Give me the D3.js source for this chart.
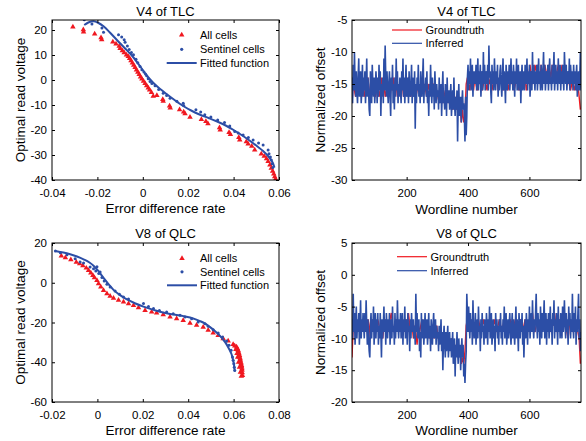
<!DOCTYPE html>
<html><head><meta charset="utf-8">
<script src="https://cdn.jsdelivr.net/npm/d3@7"></script>
<style>
body{margin:0;background:#fff}
svg text{font-family:"Liberation Sans",Arial,Helvetica,sans-serif;fill:#000;font-weight:normal}
</style></head><body>
<svg id="c" width="586" height="441"></svg>
<script>
// ---------- data: V4 of TLC (scatter) ----------
const tlcAllCells = [[-0.0308,21.2],[-0.0262,20.1],[-0.0261,19.2],[-0.0212,18.4],[-0.0184,16.9],[-0.0181,16.1],[-0.0132,15.2],[-0.0118,14.4],[-0.0104,13.5],[-0.0100,12.6],[-0.0090,11.7],[-0.0082,10.9],[-0.0072,10.0],[-0.0064,9.4],[-0.0058,8.6],[-0.0052,7.7],[-0.0046,6.8],[-0.0040,5.9],[-0.0034,5.0],[-0.0028,4.0],[-0.0022,3.1],[-0.0016,2.2],[-0.0010,1.2],[-0.0004,0.4],[0.0003,-0.5],[0.0010,-1.4],[0.0017,-2.3],[0.0024,-3.2],[0.0030,-4.0],[0.0038,-5.0],[0.0046,-6.5],[0.0062,-6.2],[0.0088,-7.8],[0.0090,-8.5],[0.0118,-10.4],[0.0121,-11.2],[0.0162,-11.9],[0.0180,-12.8],[0.0186,-13.5],[0.0208,-14.9],[0.0258,-15.8],[0.0278,-16.6],[0.0287,-17.5],[0.0338,-19.1],[0.0341,-20.0],[0.0380,-21.0],[0.0386,-21.8],[0.0423,-23.0],[0.0427,-24.0],[0.0456,-24.7],[0.0464,-25.6],[0.0480,-26.5],[0.0493,-28.0],[0.0522,-29.6],[0.0535,-30.5],[0.0545,-31.5],[0.0552,-32.6],[0.0560,-34.0],[0.0566,-35.3],[0.0572,-36.5],[0.0577,-37.6],[0.0581,-38.7],[0.0585,-39.6]];
const tlcSentinel = [[-0.0258,24.1],[-0.0224,22.4],[-0.0180,20.8],[-0.0173,19.1],[-0.0107,18.1],[-0.0093,17.2],[-0.0082,16.1],[-0.0078,15.1],[-0.0068,13.6],[-0.0060,12.2],[-0.0050,11.0],[-0.0041,10.1],[-0.0030,8.3],[-0.0022,6.9],[-0.0012,5.4],[-0.0004,4.1],[0.0005,3.2],[0.0012,2.4],[0.0017,1.7],[0.0024,0.5],[0.0032,-0.6],[0.0040,-1.4],[0.0054,-2.3],[0.0070,-3.8],[0.0090,-5.3],[0.0105,-6.2],[0.0120,-7.3],[0.0150,-8.5],[0.0178,-9.3],[0.0180,-10.2],[0.0234,-11.9],[0.0255,-12.8],[0.0273,-13.9],[0.0300,-14.8],[0.0330,-16.0],[0.0360,-17.0],[0.0383,-18.4],[0.0405,-20.6],[0.0420,-21.2],[0.0442,-22.0],[0.0465,-23.0],[0.0486,-24.0],[0.0510,-25.2],[0.0530,-26.0],[0.0552,-28.0],[0.0556,-29.5],[0.0562,-30.8],[0.0566,-32.0],[0.0570,-33.5],[0.0573,-35.0]];
const tlcFitted = [[-0.0258,22.0],[-0.0240,23.0],[-0.0217,23.5],[-0.0195,22.8],[-0.0173,21.5],[-0.0145,19.0],[-0.0115,16.1],[-0.0080,12.8],[-0.0041,9.0],[-0.0010,5.2],[0.0020,1.5],[0.0047,-1.2],[0.0075,-3.5],[0.0105,-5.6],[0.0140,-8.0],[0.0178,-10.4],[0.0215,-12.3],[0.0250,-13.8],[0.0290,-15.2],[0.0325,-16.5],[0.0365,-18.2],[0.0400,-20.0],[0.0435,-22.0],[0.0470,-24.2],[0.0505,-26.6],[0.0530,-28.4],[0.0550,-30.2],[0.0565,-32.0],[0.0575,-33.6],[0.0580,-35.0]];

// ---------- data: V8 of QLC (scatter) ----------
const qlcAllCells = [[-0.0159,13.5],[-0.0141,12.6],[-0.0117,11.6],[-0.0093,10.4],[-0.0078,9.6],[-0.0064,8.6],[-0.0049,7.4],[-0.0039,6.2],[-0.0029,4.9],[-0.0020,3.7],[-0.0013,2.6],[-0.0002,1.2],[0.0005,-0.5],[0.0015,-2.1],[0.0027,-3.8],[0.0042,-5.5],[0.0056,-6.8],[0.0071,-7.8],[0.0093,-8.8],[0.0115,-9.7],[0.0137,-10.5],[0.0159,-11.4],[0.0181,-12.5],[0.0210,-13.9],[0.0239,-14.7],[0.0261,-15.2],[0.0290,-16.1],[0.0320,-17.2],[0.0349,-18.1],[0.0378,-18.9],[0.0408,-20.3],[0.0437,-21.4],[0.0466,-22.3],[0.0488,-23.9],[0.0510,-25.3],[0.0532,-26.5],[0.0554,-28.1],[0.0576,-29.3],[0.0598,-31.0],[0.0605,-31.8],[0.0613,-32.3],[0.0617,-33.2],[0.0620,-34.0],[0.0622,-34.9],[0.0624,-35.7],[0.0626,-36.6],[0.0627,-37.4],[0.0629,-38.2],[0.0630,-39.0],[0.0632,-39.9],[0.0633,-40.7],[0.0635,-41.6],[0.0636,-42.4],[0.0637,-43.2],[0.0637,-44.0],[0.0638,-45.3],[0.0639,-46.6],[0.0610,-33.5],[0.0615,-35.5],[0.0618,-37.5],[0.0622,-40.0],[0.0626,-42.5],[0.0630,-45.0],[0.0634,-47.0]];
const qlcSentinel = [[-0.0185,16.0],[-0.0163,15.1],[-0.0134,14.1],[-0.0098,12.1],[-0.0076,10.4],[-0.0061,9.9],[-0.0032,7.9],[-0.0017,7.1],[-0.0007,5.9],[-0.0002,8.0],[0.0006,4.6],[0.0012,5.4],[0.0020,2.6],[0.0030,0.9],[0.0042,-0.8],[0.0056,-2.1],[0.0078,-4.2],[0.0097,-5.8],[0.0115,-7.2],[0.0137,-8.2],[0.0203,-10.5],[0.0225,-11.9],[0.0247,-13.0],[0.0273,-13.9],[0.0305,-14.7],[0.0334,-15.6],[0.0364,-16.4],[0.0386,-17.2],[0.0415,-18.1],[0.0444,-19.7],[0.0474,-20.6],[0.0488,-21.9],[0.0510,-23.6],[0.0532,-25.3],[0.0551,-27.3],[0.0569,-29.3],[0.0580,-31.5],[0.0589,-34.0],[0.0595,-37.4],[0.0598,-39.0],[0.0601,-40.7],[0.0603,-42.5],[0.0605,-44.1]];
const qlcFitted = [[-0.0185,16.0],[-0.0150,15.2],[-0.0120,14.3],[-0.0090,13.2],[-0.0061,11.8],[-0.0035,10.2],[-0.0017,8.6],[0.0005,5.8],[0.0027,2.4],[0.0050,-0.8],[0.0071,-3.6],[0.0100,-6.2],[0.0130,-8.4],[0.0165,-10.3],[0.0203,-12.0],[0.0240,-13.4],[0.0276,-14.6],[0.0310,-15.5],[0.0349,-16.2],[0.0380,-16.8],[0.0408,-17.5],[0.0430,-18.3],[0.0452,-19.3],[0.0475,-20.6],[0.0495,-22.2],[0.0515,-24.0],[0.0539,-26.6],[0.0555,-28.8],[0.0569,-31.0],[0.0581,-33.5],[0.0591,-36.0],[0.0597,-38.5],[0.0602,-41.5],[0.0605,-44.4]];

// ---------- data: wordline series ----------
const wordlineStart = 22;
const inferredStep = 2;     // wordlines per inferred sample
const truthStep = 4;        // wordlines per groundtruth sample
const tlcInferred = [
-14,-18,-12,-16,-10,-15,-17,-13,-16,-18,-14,-11,-17,-15,-13,-18,-16,-12,-17,-14,
-16,-13,-18,-15,-11,-17,-14,-16,-19,-20,-13,-16,-18,-12,-15,-17,-14,-18,-16,-13,
-15,-18,-14,-17,-12,-16,-13,-20,-15,-17,-14,-18,-11,-16,-9,-14,-17,-13,-16,-18,
-15,-13,-17,-20,-14,-16,-12,-18,-15,-19,-14,-17,-11,-16,-13,-18,-15,-17,-14,-16,
-18,-13,-16,-11,-17,-14,-18,-15,-12,-17,-16,-14,-18,-13,-16,-17,-15,-12,-18,-14,
-16,-17,-13,-22,-15,-18,-14,-16,-12,-17,-15,-18,-13,-16,-17,-14,-11,-18,-15,-16,
-14,-17,-13,-18,-16,-20,-15,-17,-12,-16,-18,-14,-17,-15,-19,-13,-16,-18,-15,-17,
-16,-19,-14,-18,-17,-15,-20,-16,-13,-18,-17,-19,-15,-16,-20,-14,-18,-17,-16,-19,
-17,-15,-20,-18,-16,-19,-14,-18,-20,-17,-19,-16,-24,-18,-15,-20,-19,-17,-21,-18,
-16,-19,-18,-20,-24,-17,-23,-20,-14,-12,-16,-13,-15,-11,-16,-14,-12,-17,-13,-15,
-13,-15,-12,-16,-14,-11,-16,-13,-15,-12,-17,-14,-13,-16,-10,-15,-12,-16,-14,-13,
-15,-12,-16,-9,-14,-13,-16,-18,-12,-15,-13,-16,-11,-14,-16,-13,-15,-12,-17,-14,
-16,-13,-12,-15,-17,-14,-11,-16,-13,-15,-18,-12,-14,-16,-13,-15,-12,-16,-14,-11,
-15,-13,-16,-12,-14,-17,-13,-15,-11,-16,-14,-12,-16,-15,-13,-18,-14,-12,-16,-15,
-13,-16,-12,-14,-15,-11,-16,-13,-15,-12,-17,-14,-13,-16,-10,-15,-12,-14,-16,-13,
-15,-12,-16,-14,-11,-15,-13,-16,-12,-14,-16,-13,-10,-15,-12,-16,-14,-13,-15,-12,
-16,-13,-11,-15,-14,-16,-12,-15,-13,-10,-16,-14,-12,-15,-13,-16,-11,-14,-15,-12,
-16,-13,-15,-12,-14,-16,-10,-13,-15,-12,-16,-14,-13,-15,-11,-16,-12,-14,-15,-13,
-16,-12,-15,-13,-16,-14,-12,-17,-15,-13,-16,-14,-10,-16];
const tlcGroundtruth = [
-18,-15,-16,-17,-15,-16,-14,-17,-15,-16,-17,-15,-16,-14,-16,-17,-15,-16,-15,-17,
-16,-15,-17,-16,-14,-16,-15,-17,-16,-15,-16,-17,-15,-16,-14,-16,-15,-17,-16,-15,
-16,-15,-17,-16,-15,-16,-14,-16,-17,-15,-16,-15,-17,-16,-15,-16,-17,-15,-16,-15,
-16,-17,-15,-16,-15,-15,-15,-16,-17,-16,-17,-18,-16,-17,-18,-17,-16,-18,-17,-18,
-17,-18,-19,-18,-17,-19,-18,-19,-18,-21,-19,-21,-20,-15,-14,-15,-16,-14,-15,-16,
-14,-15,-16,-14,-15,-14,-16,-15,-14,-15,-16,-14,-15,-14,-16,-15,-14,-15,-14,-16,
-15,-14,-15,-16,-14,-15,-14,-16,-15,-14,-15,-14,-16,-15,-14,-15,-16,-14,-15,-14,
-15,-14,-16,-15,-14,-12,-14,-15,-14,-12,-13,-12,-14,-15,-12,-13,-14,-12,-13,-14,
-12,-13,-14,-12,-13,-12,-14,-13,-12,-13,-14,-12,-13,-14,-12,-15,-14,-15,-16,-15,
-15,-16,-15,-16,-15,-17,-19];
const qlcInferred = [
-7,-10,-3,-9,-6,-11,-8,-5,-10,-7,-9,-6,-11,-8,-4,-10,-7,-9,-6,-8,
-10,-6,-9,-4,-8,-11,-7,-10,-12,-13,-8,-6,-10,-7,-9,-5,-11,-8,-6,-10,
-7,-9,-6,-11,-8,-10,-6,-9,-13,-7,-10,-8,-5,-9,-7,-11,-6,-8,-10,-7,
-9,-6,-11,-8,-7,-10,-5,-9,-8,-11,-6,-10,-7,-9,-4,-8,-10,-7,-9,-6,
-10,-8,-6,-11,-7,-9,-5,-10,-8,-7,-11,-6,-9,-8,-12,-7,-10,-6,-9,-8,
-7,-10,-8,-11,-3,-9,-6,-10,-8,-7,-12,-9,-13,-6,-10,-8,-7,-11,-9,-6,
-10,-8,-7,-11,-9,-6,-10,-8,-12,-7,-9,-11,-8,-6,-10,-9,-7,-11,-8,-10,
-9,-12,-8,-11,-10,-7,-12,-9,-15,-10,-8,-11,-13,-9,-12,-10,-8,-13,-11,-9,
-12,-10,-13,-11,-9,-14,-12,-10,-16,-11,-13,-9,-12,-14,-10,-13,-11,-15,-12,-10,
-13,-11,-16,-14,-17,-14,-12,-3,-6,-9,-5,-8,-10,-6,-9,-7,-11,-4,-8,-10,
-9,-6,-11,-8,-7,-10,-5,-9,-8,-12,-7,-10,-6,-9,-8,-11,-7,-9,-10,-6,
-8,-11,-7,-9,-5,-10,-8,-6,-11,-9,-7,-10,-8,-12,-6,-9,-7,-10,-8,-11,
-7,-9,-6,-10,-8,-11,-7,-9,-5,-10,-8,-6,-11,-9,-7,-10,-8,-6,-9,-11,
-8,-6,-10,-7,-9,-11,-8,-5,-10,-7,-9,-12,-6,-8,-10,-7,-9,-6,-11,-8,
-13,-9,-7,-10,-6,-8,-11,-7,-9,-5,-10,-8,-6,-9,-4,-8,-10,-7,-9,-6,
-3,-8,-10,-6,-9,-7,-11,-5,-8,-10,-6,-9,-7,-4,-10,-8,-6,-11,-7,-9,
-6,-10,-8,-5,-9,-7,-11,-6,-8,-4,-10,-7,-9,-6,-8,-11,-5,-9,-7,-10,
-6,-8,-10,-5,-9,-7,-4,-8,-10,-6,-9,-7,-11,-5,-8,-6,-10,-7,-9,-3,
-8,-10,-6,-9,-5,-11,-7,-9,-6,-3,-10,-7,-12,-9];
const qlcGroundtruth = [
-13,-8,-7,-8,-9,-8,-7,-8,-9,-7,-8,-8,-9,-7,-8,-10,-8,-7,-8,-9,
-8,-7,-8,-9,-8,-10,-8,-7,-8,-9,-8,-7,-6,-8,-9,-8,-7,-8,-9,-8,
-7,-8,-9,-8,-7,-8,-6,-8,-9,-8,-10,-8,-9,-11,-8,-9,-8,-7,-8,-9,
-8,-9,-8,-10,-9,-8,-9,-10,-9,-8,-10,-9,-10,-9,-11,-10,-9,-10,-11,-10,
-11,-10,-11,-12,-11,-12,-11,-13,-12,-14,-13,-14,-12,-8,-7,-8,-9,-8,-7,-8,
-8,-9,-8,-7,-8,-9,-8,-7,-8,-9,-8,-8,-7,-8,-9,-8,-7,-8,-9,-8,
-7,-8,-9,-8,-7,-8,-8,-9,-8,-7,-8,-9,-8,-7,-8,-9,-8,-7,-8,-9,
-8,-7,-8,-9,-8,-7,-8,-6,-8,-9,-8,-7,-8,-9,-8,-7,-8,-9,-8,-7,
-8,-9,-8,-7,-8,-6,-8,-9,-8,-7,-8,-9,-8,-7,-8,-9,-10,-8,-7,-8,
-9,-8,-7,-8,-9,-10,-14];

// ---------- ticks ----------
const tlcScatterXTicks = [-0.04,-0.02,0,0.02,0.04,0.06];
const tlcScatterYTicks = [20,10,0,-10,-20,-30,-40];
const qlcScatterXTicks = [-0.02,0,0.02,0.04,0.06,0.08];
const qlcScatterYTicks = [20,0,-20,-40,-60];
const wordlineTicks = [200,400,600];
const tlcOffsetTicks = [-5,-10,-15,-20,-25,-30];
const qlcOffsetTicks = [5,0,-5,-10,-15,-20];

// ---------- drawing ----------
const RED = '#f01820', BLUE = '#2c4ea6';
const svg = d3.select('#c');
const defs = svg.append('defs');
const fmtNum = d => String(d);

function panel(o) {
  const g = svg.append('g');
  const x = d3.scaleLinear().domain(o.xd).range([o.l, o.r]);
  const y = d3.scaleLinear().domain(o.yd).range([o.b, o.t]);
  defs.append('clipPath').attr('id', 'cl' + o.id).append('rect')
    .attr('x', o.l).attr('y', o.t).attr('width', o.r - o.l).attr('height', o.b - o.t);
  const plot = g.append('g').attr('clip-path', `url(#cl${o.id})`);
  o.draw(plot, x, y);

  const tickFont = g => g.selectAll('text').style('font-size', '11.5px').attr('fill', '#000');
  const noDom = g => g.select('.domain').remove();
  g.append('g').attr('transform', `translate(0,${o.b})`)
    .call(d3.axisBottom(x).tickValues(o.xt).tickFormat(fmtNum).tickSize(-3).tickPadding(9))
    .call(noDom).call(tickFont);
  g.append('g').attr('transform', `translate(0,${o.t})`)
    .call(d3.axisTop(x).tickValues(o.xt).tickFormat('').tickSize(-3))
    .call(noDom);
  g.append('g').attr('transform', `translate(${o.l},0)`)
    .call(d3.axisLeft(y).tickValues(o.yt).tickFormat(fmtNum).tickSize(-3).tickPadding(o.ypad))
    .call(noDom).call(tickFont);
  g.append('g').attr('transform', `translate(${o.r},0)`)
    .call(d3.axisRight(y).tickValues(o.yt).tickFormat('').tickSize(-3))
    .call(noDom);
  g.selectAll('.tick line').attr('stroke', '#000');
  g.selectAll('g').attr('font-family', null);

  g.append('rect').attr('x', o.l).attr('y', o.t).attr('width', o.r - o.l).attr('height', o.b - o.t)
    .attr('fill', 'none').attr('stroke', '#000').attr('stroke-width', 1);

  g.append('text').attr('x', (o.l + o.r) / 2).attr('y', o.titleY).attr('text-anchor', 'middle')
    .attr('dominant-baseline', 'central').style('font-size', '13px').text(o.title);
  g.append('text').attr('x', (o.l + o.r) / 2).attr('y', o.xlabY).attr('text-anchor', 'middle')
    .attr('dominant-baseline', 'central').style('font-size', '13.5px').text(o.xlab);
  g.append('text').attr('transform', `translate(${o.ylabX},${(o.t + o.b) / 2}) rotate(-90)`)
    .attr('text-anchor', 'middle').attr('dominant-baseline', 'central')
    .style('font-size', '13.5px').text(o.ylab);
  o.legend(g);
}

const tri = d3.symbol().type(d3.symbolTriangle).size(13);

function scatterDraw(all, sentinel, fitted) {
  return (p, x, y) => {
    p.selectAll('path.tri').data(all).join('path').attr('class', 'tri')
      .attr('d', tri).attr('transform', d => `translate(${x(d[0])},${y(d[1])})`).attr('fill', RED);
    p.selectAll('circle').data(sentinel).join('circle')
      .attr('cx', d => x(d[0])).attr('cy', d => y(d[1])).attr('r', 1.5).attr('fill', BLUE);
    p.append('path').datum(fitted)
      .attr('d', d3.line().x(d => x(d[0])).y(d => y(d[1])).curve(d3.curveMonotoneX))
      .attr('fill', 'none').attr('stroke', BLUE).attr('stroke-width', 2);
  };
}
function scatterLegend(lx, ys) {
  return g => {
    const L = g.append('g');
    L.append('path').attr('d', tri).attr('transform', `translate(${lx},${ys[0]})`).attr('fill', RED);
    L.append('circle').attr('cx', lx).attr('cy', ys[1]).attr('r', 1.6).attr('fill', BLUE);
    L.append('line').attr('x1', lx - 15).attr('x2', lx + 15).attr('y1', ys[2]).attr('y2', ys[2])
      .attr('stroke', BLUE).attr('stroke-width', 2);
    ['All cells', 'Sentinel cells', 'Fitted function'].forEach((t, i) =>
      L.append('text').attr('x', 200).attr('y', ys[i]).attr('dominant-baseline', 'central')
        .style('font-size', '11px').text(t));
  };
}
function seriesDraw(truth, inferred) {
  return (p, x, y) => {
    p.append('path').datum(truth)
      .attr('d', d3.line().x((d, i) => x(wordlineStart + truthStep * i)).y(d => y(d)))
      .attr('fill', 'none').attr('stroke', RED).attr('stroke-width', 1.4);
    p.append('path').datum(inferred)
      .attr('d', d3.line().x((d, i) => x(wordlineStart + inferredStep * i)).y(d => y(d)))
      .attr('fill', 'none').attr('stroke', BLUE).attr('stroke-width', 1.6);
  };
}
function seriesLegend(x1, ys) {
  return g => {
    const L = g.append('g');
    [['Groundtruth', RED], ['Inferred', BLUE]].forEach(([t, c], i) => {
      L.append('line').attr('x1', x1).attr('x2', x1 + 30).attr('y1', ys[i]).attr('y2', ys[i])
        .attr('stroke', c).attr('stroke-width', 1.2);
      L.append('text').attr('x', x1 + 33.5).attr('y', ys[i]).attr('dominant-baseline', 'central')
        .style('font-size', '11px').text(t);
    });
  };
}

panel({ id: 1, l: 52, r: 279, t: 20, b: 180, xd: [-0.04, 0.06], yd: [-40, 24],
  xt: tlcScatterXTicks, yt: tlcScatterYTicks, ypad: 5,
  title: 'V4 of TLC', titleY: 11.5, xlab: 'Error difference rate', xlabY: 208.5,
  ylab: 'Optimal read voltage', ylabX: 20,
  draw: scatterDraw(tlcAllCells, tlcSentinel, tlcFitted), legend: scatterLegend(181.7, [35, 49.3, 63]) });

panel({ id: 2, l: 352, r: 581, t: 20, b: 180, xd: [22, 768], yd: [-30, -5],
  xt: wordlineTicks, yt: tlcOffsetTicks, ypad: 4.5,
  title: 'V4 of TLC', titleY: 11.5, xlab: 'Wordline number', xlabY: 209,
  ylab: 'Normalized offset', ylabX: 320,
  draw: seriesDraw(tlcGroundtruth, tlcInferred), legend: seriesLegend(392, [30, 43.3]) });

panel({ id: 3, l: 52, r: 279, t: 243, b: 402, xd: [-0.02, 0.08], yd: [-60, 20],
  xt: qlcScatterXTicks, yt: qlcScatterYTicks, ypad: 5,
  title: 'V8 of QLC', titleY: 233.5, xlab: 'Error difference rate', xlabY: 430,
  ylab: 'Optimal read voltage', ylabX: 20,
  draw: scatterDraw(qlcAllCells, qlcSentinel, qlcFitted), legend: scatterLegend(182, [258.3, 271.8, 285.3]) });

panel({ id: 4, l: 352, r: 581, t: 243, b: 402, xd: [22, 768], yd: [-20, 5],
  xt: wordlineTicks, yt: qlcOffsetTicks, ypad: 4.5,
  title: 'V8 of QLC', titleY: 233.5, xlab: 'Wordline number', xlabY: 430,
  ylab: 'Normalized offset', ylabX: 320,
  draw: seriesDraw(qlcGroundtruth, qlcInferred), legend: seriesLegend(397, [256.7, 270.7]) });
</script>
</body></html>
